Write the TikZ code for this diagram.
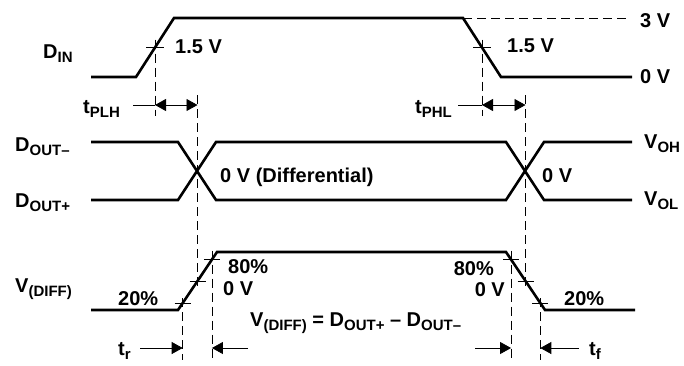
\documentclass[tikz,border=0pt]{standalone}
\usepackage{fontspec}
\setmainfont{Liberation Sans}
\usetikzlibrary{arrows.meta,calc}

% subscript text, set smaller and lowered
\newcommand{\sbs}[1]{\raisebox{-4pt}{\fontsize{15}{15}\selectfont #1}}

\tikzset{
  sig/.style={line width=2.6pt},
  guide/.style={line width=0.8pt, dash pattern=on 9pt off 5pt},
  tickln/.style={line width=0.8pt},
  dim/.style={line width=0.8pt, -{Triangle[length=11pt,width=12pt]}},
  dimboth/.style={line width=0.8pt, {Triangle[length=11pt,width=12pt]}-{Triangle[length=11pt,width=12pt]}},
  lbl/.style={font=\fontsize{20}{20}\selectfont\bfseries, inner sep=0pt, anchor=base west},
}

\begin{document}
\begin{tikzpicture}[x=1pt,y=-1pt]
\useasboundingbox (0,0) rectangle (684,365);

% D_IN waveform
\coordinate (inA) at (136,77);
\coordinate (inB) at (174,18);
\coordinate (inC) at (463,18);
\coordinate (inD) at (501,77);
\draw[sig] (91,77) -- (inA) -- (inB) -- (inC) -- (inD) -- (632,77);
\draw[guide] (inC) -- (629,18);

% 1.5 V crossings
\coordinate (inR) at ($(inA)!0.5!(inB)$);
\coordinate (inF) at ($(inC)!0.5!(inD)$);
\draw[tickln] ($(inR)+(-9,0)$) -- ($(inR)+(9,0)$);
\draw[tickln] ($(inF)+(-9,0)$) -- ($(inF)+(9,0)$);
\coordinate (plhY) at (0,116);
\draw[guide] ($(inR)+(0,-8)$) -- (inR |- plhY);
\draw[guide] ($(inF)+(0,-8)$) -- (inF |- plhY);

% D_OUT- and D_OUT+ waveforms
\draw[sig] (91,142) -- (178,142) -- (216,200) -- (506,200) -- (544,142) -- (632,142);
\draw[sig] (91,200) -- (178,200) -- (216,142) -- (506,142) -- (544,200) -- (632,200);

% V(DIFF) waveform
\coordinate (dfA) at (178,310);
\coordinate (dfB) at (217,252);
\coordinate (dfC) at (506,252);
\coordinate (dfD) at (545,310);
\draw[sig] (91,310) -- (dfA) -- (dfB) -- (dfC) -- (dfD) -- (635,310);

% 20 %, 0 V and 80 % points
\coordinate (r20) at ($(dfA)!0.12!(dfB)$);
\coordinate (r50) at ($(dfA)!0.5!(dfB)$);
\coordinate (r80) at ($(dfA)!0.87!(dfB)$);
\coordinate (f80) at ($(dfC)!0.13!(dfD)$);
\coordinate (f50) at ($(dfC)!0.5!(dfD)$);
\coordinate (f20) at ($(dfC)!0.88!(dfD)$);
\foreach \p in {r20,r50,r80,f80,f50,f20}
  \draw[tickln] ($(\p)+(-8,0)$) -- ($(\p)+(8,0)$);

% guides through the outputs
\coordinate (topY) at (0,95);
\coordinate (dimY) at (0,360);
\draw[guide] (r50 |- topY) -- ($(r50)+(0,9)$);
\draw[guide] (f50 |- topY) -- ($(f50)+(0,9)$);
\draw[guide] ($(r20)+(0,-5)$) -- (r20 |- dimY);
\draw[guide] ($(r80)+(0,-9)$) -- (r80 |- dimY);
\draw[guide] ($(f80)+(0,-9)$) -- (f80 |- dimY);
\draw[guide] ($(f20)+(0,-5)$) -- (f20 |- dimY);

% t_PLH and t_PHL
\coordinate (plhT) at (133,105);
\coordinate (plhA) at (inR |- plhT);
\coordinate (plhB) at (r50 |- plhT);
\draw[tickln] (plhT) -- (plhA);
\draw[dimboth] (plhA) -- (plhB);
\coordinate (phlT) at (458,105);
\coordinate (phlA) at (inF |- phlT);
\coordinate (phlB) at (f50 |- phlT);
\draw[tickln] (phlT) -- (phlA);
\draw[dimboth] (phlA) -- (phlB);

% t_r and t_f
\coordinate (trY) at (0,348);
\coordinate (trT) at (140,348);
\coordinate (trU) at (248,348);
\coordinate (tfT) at (475,348);
\coordinate (tfU) at (579,348);
\draw[dim] (trT) -- (r20 |- trY);
\draw[dim] (trU) -- (r80 |- trY);
\draw[dim] (tfT) -- (f80 |- trY);
\draw[dim] (tfU) -- (f20 |- trY);

% Labels
\node[lbl] (din) at (43,58) {D\sbs{IN}};
\node[lbl] (vhalfa) at (175,53) {1.5 V};
\node[lbl] (vhalfb) at (507,52) {1.5 V};
\node[lbl] (vthree) at (640,27) {3 V};
\node[lbl] (vzero) at (640,83) {0 V};
\node[lbl] (tplh) at (83,113) {t\sbs{PLH}};
\node[lbl] (tphl) at (415,113) {t\sbs{PHL}};
\node[lbl] (doutm) at (15,151) {D\sbs{OUT–}};
\node[lbl] (doutp) at (15,207) {D\sbs{OUT+}};
\node[lbl] (voh) at (644,148) {V\sbs{OH}};
\node[lbl] (vol) at (644,205) {V\sbs{OL}};
\node[lbl] (zdiff) at (220,182) {0 V (Differential)};
\node[lbl] (zright) at (542,182) {0 V};
\node[lbl] (vdiff) at (15,292) {V\sbs{(DIFF)}};
\node[lbl] (ptwa) at (118,305) {20\%};
\node[lbl] (peia) at (228,273) {80\%};
\node[lbl] (zeroa) at (223,295) {0 V};
\node[lbl, anchor=base east] (peib) at (494,275) {80\%};
\node[lbl, anchor=base east] (zerob) at (505,296) {0 V};
\node[lbl] (ptwb) at (564,305) {20\%};
\node[lbl] (eqn) at (250,326) {V\sbs{(DIFF)} = D\sbs{OUT+} – D\sbs{OUT–}};
\node[lbl] (trise) at (118,355) {t\sbs{r}};
\node[lbl] (tfall) at (589,355) {t\sbs{f}};
\end{tikzpicture}
\end{document}
